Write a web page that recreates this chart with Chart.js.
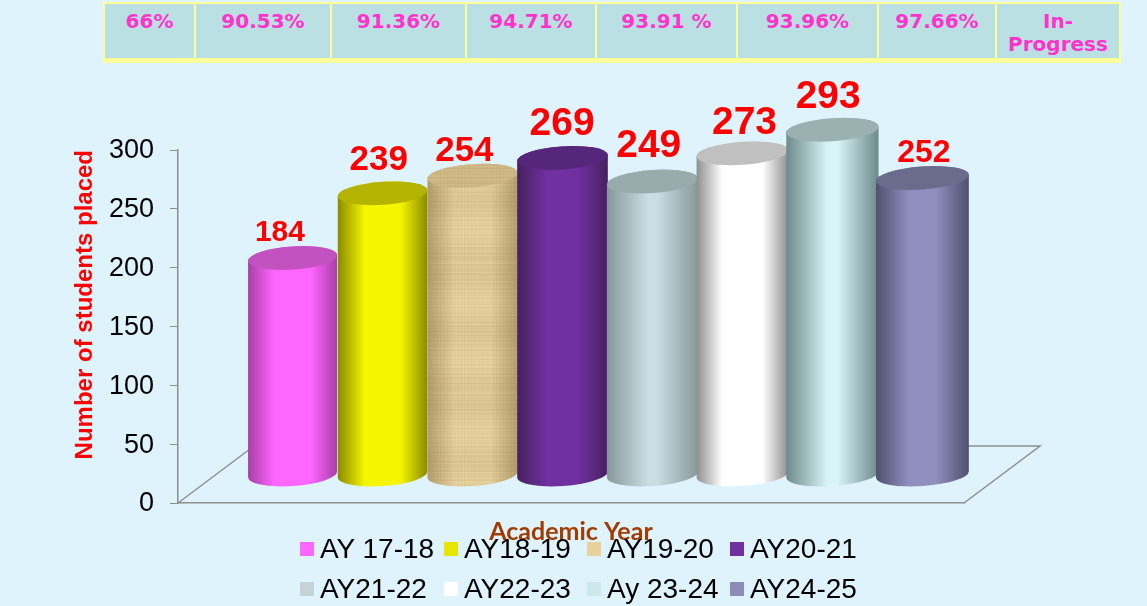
<!DOCTYPE html>
<html>
<head>
<meta charset="utf-8">
<script src="https://cdn.jsdelivr.net/npm/chart.js"></script>
<style>
  html, body { margin: 0; padding: 0; background: #dff3fc; }
  #wrap { position: relative; width: 1147px; height: 606px; overflow: hidden; }
  #myChart { position: absolute; left: 0; top: 0; }
  #pct { position: absolute; left: 103px; top: 2px; width: 1016px; height: 61px; border-collapse: collapse;
    table-layout: fixed; background: #bbe0e3; border: 2px solid #ffff99; border-bottom-width: 5px; }
  #pct td { box-sizing: border-box; border-left: 2px solid #ffff99; padding: 6px 0 0 0; vertical-align: top; text-align: center;
    font: bold 20px/23px "DejaVu Sans"; color: #ff33cc; }
  .key { position: absolute; font: 28px/30px "Liberation Sans"; color: #000; white-space: nowrap; }
  .key i { position: absolute; left: -20px; top: 8px; width: 14px; height: 14px; }
</style>
</head>
<body>
<div id="wrap">
  <canvas id="myChart" width="1147" height="606"></canvas>
  <table id="pct"><tr id="pctRow"></tr></table>
</div>
<script>
/* eslint-disable require-jsdoc */
const yearLabels = ['AY 17-18', 'AY18-19', 'AY19-20', 'AY20-21', 'AY21-22', 'AY22-23', 'Ay 23-24', 'AY24-25'];
const studentsPlaced = [184, 239, 254, 269, 249, 273, 293, 252];
const placementPct = ['66%', '90.53%', '91.36%', '94.71%', '93.91 %', '93.96%', '97.66%', 'In-<br>Progress'];
const pctColWidths = [91, 136, 135, 130, 141, 141, 118, 124];

// edge, middle, top of each cylinder
const barEdge = ['#a83fa6', '#8a8a00', '#a8946c', '#46205f', '#86989b', '#8e8e8e', '#6d8a8a', '#50506f'];
const barMiddle = ['#ff66ff', '#f5f500', '#ecd9a8', '#7030a0', '#cbdde2', '#ffffff', '#daf5f8', '#9090c0'];
const barTop = ['#c252c0', '#b3b300', '#d6c08e', '#55267a', '#9aabad', '#c0c0c0', '#9bb0b0', '#6b6b8c'];
const barRamp = [0.3, 0.3, 0.3, 0.33, 0.45, 0.28, 0.45, 0.36];
const swatches = ['#ff66ff', '#e6e600', '#e8cf9c', '#7030a0', '#c3d3d6', '#ffffff', '#cde8ea', '#8c8cb8'];

// nudges of the value labels from the top of each cylinder
const labelNudgeX = [-13, -4, -8, 0, -3, 3, -3, 3];
const labelNudgeY = [-25, -33, -24, -34, -35, -30, -32, -25];
const labelSizes = [30, 35, 35, 39, 39, 39, 39, 32];

// pseudo 3d: bars stand back from the front of the floor
const DEPTH_X_SCALE = 0.913;
const DEPTH_X_SHIFT = 85.6;
const DEPTH_Y = 28.5;
const TILT = -0.07;
const MINOR = 11.5;

function paperPattern(ctx) {
  const c = document.createElement('canvas');
  c.width = 130;
  c.height = 130;
  const p = c.getContext('2d');
  p.fillStyle = '#ecd9a6';
  p.fillRect(0, 0, 130, 130);
  for (let i = 0; i < 130; i++) {
    const a = 0.09 + 0.08 * Math.sin(i * 1.7) * Math.sin(i * 0.37) + 0.05 * Math.sin(i * 0.11);
    p.fillStyle = 'rgba(150,115,60,' + Math.max(a, 0) + ')';
    p.fillRect(0, i, 130, 1);
    const b = 0.05 + 0.05 * Math.sin(i * 2.3) * Math.cos(i * 0.51);
    p.fillStyle = 'rgba(140,110,60,' + Math.max(b, 0) + ')';
    p.fillRect(i, 0, 1, 130);
  }
  return ctx.createPattern(c, 'repeat');
}

const floorPlugin = {
  id: 'floor',
  beforeDatasetsDraw(chart) {
    const {ctx, chartArea: ca} = chart;
    ctx.save();
    ctx.strokeStyle = '#8e8e8e';
    ctx.lineWidth = 1.5;
    ctx.beginPath();
    ctx.moveTo(ca.left, ca.bottom);
    ctx.lineTo(ca.left + 72, ca.bottom - 54);
    ctx.moveTo(ca.right, ca.bottom);
    ctx.lineTo(ca.right + 76, ca.bottom - 57);
    ctx.lineTo(ca.right, ca.bottom - 57);
    ctx.stroke();
    ctx.restore();
  },
};

const cylinderPlugin = {
  id: 'cylinders',
  afterDatasetsDraw(chart) {
    const {ctx, chartArea: ca, scales} = chart;
    const meta = chart.getDatasetMeta(0);
    const zero = scales.y.getPixelForValue(0) - DEPTH_Y;
    const paper = paperPattern(ctx);
    meta.data.forEach((bar, i) => {
      const frac = (bar.x - ca.left) / (ca.right - ca.left);
      const half = bar.width * (0.905 + 0.045 * frac) / 2;
      const cx = bar.x * DEPTH_X_SCALE + DEPTH_X_SHIFT + half - 45;
      const top = bar.y - DEPTH_Y;

      ctx.save();
      ctx.beginPath();
      ctx.ellipse(cx, zero, half, MINOR, TILT, Math.PI, 0, true);
      ctx.ellipse(cx, top, half, MINOR, TILT, 0, Math.PI, true);
      ctx.closePath();
      const g = ctx.createLinearGradient(cx - half, 0, cx + half, 0);
      g.addColorStop(0, barEdge[i]);
      g.addColorStop(barRamp[i], barMiddle[i]);
      g.addColorStop(1 - barRamp[i], barMiddle[i]);
      g.addColorStop(1, barEdge[i]);
      if (i === 2) {
        ctx.fillStyle = paper;
        ctx.fill();
        const s = ctx.createLinearGradient(cx - half, 0, cx + half, 0);
        s.addColorStop(0, 'rgba(110,85,40,0.4)');
        s.addColorStop(0.3, 'rgba(110,85,40,0)');
        s.addColorStop(0.7, 'rgba(110,85,40,0)');
        s.addColorStop(1, 'rgba(110,85,40,0.4)');
        ctx.fillStyle = s;
      } else {
        ctx.fillStyle = g;
      }
      ctx.fill();

      ctx.beginPath();
      ctx.ellipse(cx, top, half, MINOR, TILT, 0, Math.PI * 2);
      if (i === 2) {
        ctx.fillStyle = paper;
        ctx.fill();
        ctx.fillStyle = 'rgba(130,100,50,0.22)';
      } else {
        ctx.fillStyle = barTop[i];
      }
      ctx.fill();
      ctx.restore();
    });

    // value labels go over all of the bars
    ctx.save();
    ctx.fillStyle = '#ff0000';
    ctx.textAlign = 'center';
    ctx.textBaseline = 'middle';
    meta.data.forEach((bar, i) => {
      const cx = bar.x * DEPTH_X_SCALE + DEPTH_X_SHIFT;
      ctx.font = 'bold ' + labelSizes[i] + 'px "Liberation Sans"';
      ctx.fillText(studentsPlaced[i], cx + labelNudgeX[i], bar.y - DEPTH_Y + labelNudgeY[i]);
    });
    ctx.restore();
  },
};

const config = {
  type: 'bar',
  data: {
    labels: yearLabels,
    datasets: [{
      label: 'Number of students placed',
      data: studentsPlaced,
      backgroundColor: 'rgba(0,0,0,0)',
      barPercentage: 1,
      categoryPercentage: 1,
    }],
  },
  options: {
    responsive: false,
    animation: false,
    layout: {padding: {left: 71, right: 183, top: 150, bottom: 59}},
    plugins: {legend: {display: false}, tooltip: {enabled: false}},
    scales: {
      x: {
        grid: {display: false},
        ticks: {display: false},
        border: {color: '#8e8e8e', width: 1.5},
        title: {
          display: true,
          text: 'Academic Year',
          color: '#a03c00',
          font: {family: 'Lato', weight: 'bold', size: 25},
          padding: {top: 6, bottom: 0},
        },
      },
      y: {
        min: 0,
        max: 300,
        ticks: {stepSize: 50, color: '#000', padding: 16, labelOffset: 1, font: {family: 'Liberation Sans', size: 27}},
        grid: {drawOnChartArea: false, drawTicks: true, tickLength: 8, color: '#8e8e8e'},
        border: {color: '#8e8e8e', width: 1.5},
        title: {
          display: true,
          text: 'Number of students placed',
          color: '#ff0000',
          align: 'end',
          font: {family: 'Liberation Sans', weight: 'bold', size: 24},
          padding: 0,
        },
        afterFit(scale) {
          scale.width = 107;
        },
      },
    },
  },
  plugins: [floorPlugin, cylinderPlugin],
};

const myChart = new Chart(document.getElementById('myChart'), config);

// percentage strip above the chart
const row = document.getElementById('pctRow');
placementPct.forEach((t, i) => {
  const td = document.createElement('td');
  td.style.width = pctColWidths[i] + 'px';
  td.innerHTML = t;
  row.appendChild(td);
});

// legend, two rows of four
const wrap = document.getElementById('wrap');
const keyX = [320, 464, 607, 750];
const keyY = [534, 574];
yearLabels.forEach((name, i) => {
  const k = document.createElement('div');
  k.className = 'key';
  k.style.left = keyX[i % 4] + 'px';
  k.style.top = keyY[Math.floor(i / 4)] + 'px';
  k.innerHTML = '<i style="background:' + swatches[i] + '"></i>' + name;
  wrap.appendChild(k);
});
</script>
</body>
</html>
